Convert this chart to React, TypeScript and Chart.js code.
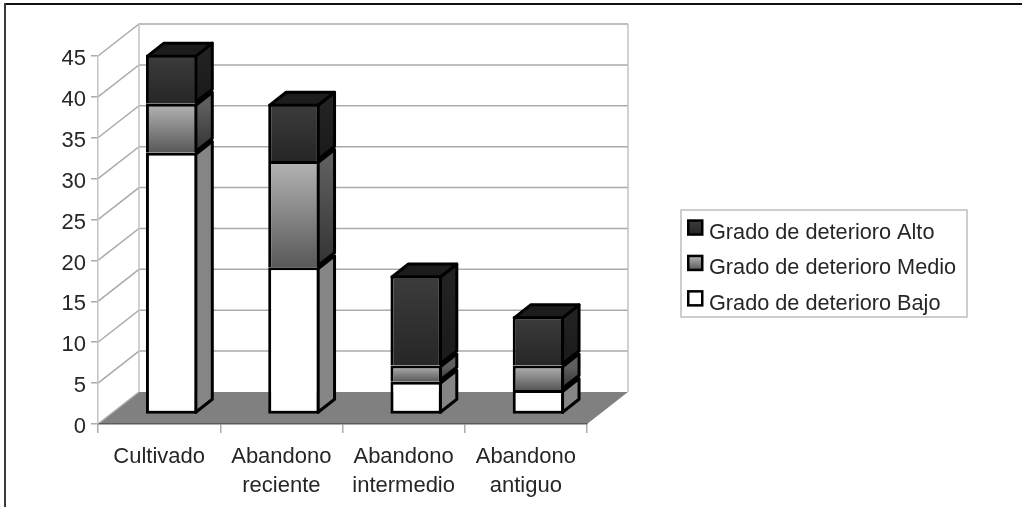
import React, { useEffect, useRef } from "react";
import { Chart, registerables } from "chart.js";

Chart.register(...registerables);

const categories = [
  "Cultivado",
  ["Abandono", "reciente"],
  ["Abandono", "intermedio"],
  ["Abandono", "antiguo"],
];
const gradoBajo = [32, 18, 4, 3];
const gradoMedio = [6, 13, 2, 3];
const gradoAlto = [6, 7, 11, 6];
const yTicks = [0, 5, 10, 15, 20, 25, 30, 35, 40, 45];

const FONT = "'Liberation Sans', Arial, sans-serif";
const TEXT = "#262626";
const GRID = "#ababab";

// Oblique projection: back wall offset, bar front-face offset, bar depth
const WALL = { dx: 41, dy: -32 };
const BAR_SHIFT = { dx: 12.5, dy: -9.5 };
const BAR_DEPTH = { dx: 16.5, dy: -13 };
const EDGE = 3;

const palette = {
  alto: { front: ["#3c3c3c", "#262626"], side: ["#222222", "#1a1a1a"], top: "#1c1c1c" },
  medio: { front: ["#b4b4b4", "#585858"], side: ["#5e5e5e", "#333333"], top: "#444444" },
  bajo: { front: ["#ffffff", "#ffffff"], side: ["#858585", "#858585"], top: "#858585" },
};
const paletteOrder = [palette.bajo, palette.medio, palette.alto];

const stackBase = (ds: number, i: number) =>
  [gradoBajo, gradoMedio, gradoAlto].slice(0, ds).reduce((s, a) => s + a[i], 0);

// Vertical gradient for a bar segment, built from the same scale as the bar
function frontFill(colors: string[], seriesIndex: number) {
  return (c: any) => {
    const ctx = c.chart.ctx as CanvasRenderingContext2D;
    const y = c.chart.scales?.y;
    if (c.type !== "data" || !y) return colors[0];
    const base = stackBase(seriesIndex, c.dataIndex);
    const value = c.raw as number;
    const y0 = y.getPixelForValue(base + value);
    const y1 = y.getPixelForValue(base);
    if (!Number.isFinite(y0) || !Number.isFinite(y1)) return colors[0];
    const g = ctx.createLinearGradient(0, y0, 0, y1);
    g.addColorStop(0, colors[0]);
    g.addColorStop(1, colors[1]);
    return g;
  };
}

const wallsPlugin = {
  id: "walls",
  beforeDraw(chart: any) {
    const { ctx, chartArea: a, scales } = chart;
    const bottom = a.bottom;
    ctx.save();
    ctx.fillStyle = "#ffffff";
    ctx.fillRect(0, 0, chart.width, chart.height);

    // page frame along the top and left
    ctx.fillStyle = "#111111";
    ctx.fillRect(4, 3, chart.width - 4, 2);
    ctx.fillStyle = "#3a3a3a";
    ctx.fillRect(4, 3, 2, chart.height - 3);

    // floor
    ctx.fillStyle = "#808080";
    ctx.beginPath();
    ctx.moveTo(a.left, bottom);
    ctx.lineTo(a.left + WALL.dx, bottom + WALL.dy);
    ctx.lineTo(a.right + WALL.dx, bottom + WALL.dy);
    ctx.lineTo(a.right, bottom);
    ctx.closePath();
    ctx.fill();

    // walls: side-wall diagonals and back-wall gridlines at each tick
    ctx.strokeStyle = GRID;
    ctx.lineWidth = 1.5;
    yTicks.forEach((t) => {
      const py = scales.y.getPixelForValue(t);
      ctx.beginPath();
      ctx.moveTo(a.left, py);
      ctx.lineTo(a.left + WALL.dx, py + WALL.dy);
      if (t > 0) ctx.lineTo(a.right + WALL.dx, py + WALL.dy);
      ctx.stroke();
    });
    ctx.strokeStyle = "#c4c4c4";
    ctx.beginPath();
    ctx.moveTo(a.left + WALL.dx, bottom + WALL.dy);
    ctx.lineTo(a.left + WALL.dx, a.top + WALL.dy);
    ctx.moveTo(a.right + WALL.dx, bottom + WALL.dy);
    ctx.lineTo(a.right + WALL.dx, a.top + WALL.dy);
    ctx.stroke();
    ctx.restore();
  },
};

const depthPlugin = {
  id: "depth",
  beforeDatasetsDraw(chart: any) {
    const { ctx } = chart;
    ctx.save();
    ctx.translate(BAR_SHIFT.dx, BAR_SHIFT.dy);
    ctx.strokeStyle = "#000000";
    ctx.lineWidth = EDGE;
    ctx.lineJoin = "round";
    const inset = EDGE / 2;
    chart.data.datasets.forEach((_: any, ds: number) => {
      const colors = paletteOrder[ds];
      chart.getDatasetMeta(ds).data.forEach((bar: any) => {
        const xr = bar.x + bar.width / 2 - inset;
        const xl = bar.x - bar.width / 2 + inset;
        const yt = bar.y + inset;
        const yb = bar.base - inset;
        const g = ctx.createLinearGradient(0, yt, 0, yb);
        g.addColorStop(0, colors.side[0]);
        g.addColorStop(1, colors.side[1]);
        ctx.fillStyle = g;
        ctx.beginPath();
        ctx.moveTo(xr, yt);
        ctx.lineTo(xr + BAR_DEPTH.dx, yt + BAR_DEPTH.dy);
        ctx.lineTo(xr + BAR_DEPTH.dx, yb + BAR_DEPTH.dy);
        ctx.lineTo(xr, yb);
        ctx.closePath();
        ctx.fill();
        ctx.stroke();
        if (ds === chart.data.datasets.length - 1) {
          ctx.fillStyle = colors.top;
          ctx.beginPath();
          ctx.moveTo(xl, yt);
          ctx.lineTo(xl + BAR_DEPTH.dx, yt + BAR_DEPTH.dy);
          ctx.lineTo(xr + BAR_DEPTH.dx, yt + BAR_DEPTH.dy);
          ctx.lineTo(xr, yt);
          ctx.closePath();
          ctx.fill();
          ctx.stroke();
        }
      });
    });
    // front faces are drawn by the bar elements, shifted the same way
  },
  afterDatasetsDraw(chart: any) {
    chart.ctx.restore();
  },
};

const legendPlugin = {
  id: "legendFrame",
  afterLayout(chart: any) {
    const l = chart.legend;
    l.left = 673.3;
    l.right = 1000;
    l.top = 208.3;
    l.bottom = 332;
    l.width = l.right - l.left;
    l.height = l.bottom - l.top;
    l.adjustHitBoxes();
  },
  afterDraw(chart: any) {
    const { ctx, legend } = chart;
    ctx.save();
    ctx.strokeStyle = "#bdbdbd";
    ctx.lineWidth = 1.5;
    ctx.strokeRect(681, 210, 286, 107);
    // swatches sit tight against their labels
    const rows = [palette.alto, palette.medio, palette.bajo];
    legend.legendHitBoxes.forEach((hit: any, i: number) => {
      const cy = hit.top + hit.height / 2 - 5.3;
      const x = 688.25;
      const size = 14;
      const g = ctx.createLinearGradient(0, cy - size / 2, 0, cy + size / 2);
      g.addColorStop(0, rows[i].front[0]);
      g.addColorStop(1, rows[i].front[1]);
      ctx.fillStyle = g;
      ctx.fillRect(x, cy - size / 2, size, size);
      ctx.strokeStyle = "#000000";
      ctx.lineWidth = 2.5;
      ctx.strokeRect(x, cy - size / 2, size, size);
    });
    ctx.restore();
  },
};

export default function App() {
  const ref = useRef<HTMLCanvasElement>(null);

  useEffect(() => {
    if (!ref.current) return;
    const sideBorder = { top: EDGE, left: EDGE, right: EDGE, bottom: 0 };
    const chart = new Chart(ref.current, {
      type: "bar",
      data: {
        labels: categories as any,
        datasets: [
          {
            label: "Grado de deterioro Bajo",
            data: gradoBajo,
            backgroundColor: frontFill(palette.bajo.front, 0),
            borderColor: "#000000",
            borderWidth: EDGE,
            borderSkipped: false,
          },
          {
            label: "Grado de deterioro Medio",
            data: gradoMedio,
            backgroundColor: frontFill(palette.medio.front, 1),
            borderColor: "#000000",
            borderWidth: sideBorder,
            borderSkipped: false,
          },
          {
            label: "Grado de deterioro Alto",
            data: gradoAlto,
            backgroundColor: frontFill(palette.alto.front, 2),
            borderColor: "#000000",
            borderWidth: sideBorder,
            borderSkipped: false,
          },
        ],
      },
      options: {
        responsive: false,
        animation: false,
        devicePixelRatio: 1,
        barPercentage: 0.42,
        categoryPercentage: 1,
        layout: { padding: { top: 56, right: 435, left: 0, bottom: 0 } },
        datasets: { bar: { clip: false } as any },
        scales: {
          x: {
            stacked: true,
            afterFit(axis: any) {
              axis.height = 83;
            },
            grid: {
              drawOnChartArea: false,
              drawTicks: true,
              tickLength: 9,
              tickColor: GRID,
              lineWidth: 1.5,
            },
            border: { color: "#5a5a5a", width: 1.6 },
            ticks: {
              color: TEXT,
              maxRotation: 0,
              autoSkip: false,
              padding: 9,
              font: { family: FONT, size: 22, lineHeight: 1.33 },
            },
          },
          y: {
            stacked: true,
            min: 0,
            max: 45,
            afterFit(axis: any) {
              axis.width = 98;
            },
            afterBuildTicks(axis: any) {
              axis.ticks = yTicks.map((value) => ({ value }));
            },
            // tick numbers sit a little below their tick marks
            afterUpdate(axis: any) {
              if (axis.__labelsLowered) return;
              axis.__labelsLowered = true;
              const drawLabels = axis.drawLabels.bind(axis);
              axis.drawLabels = (area: any) => {
                axis.ctx.save();
                axis.ctx.translate(0, 3);
                drawLabels(area);
                axis.ctx.restore();
              };
            },
            grid: {
              drawOnChartArea: false,
              drawTicks: true,
              tickLength: 7,
              tickColor: GRID,
              lineWidth: 1.5,
            },
            border: { color: "#c4c4c4", width: 1.5 },
            ticks: {
              color: TEXT,
              padding: 5,
              font: { family: FONT, size: 22 },
            },
          },
        },
        plugins: {
          title: { display: false },
          tooltip: { enabled: false },
          legend: {
            display: true,
            position: "chartArea",
            align: "start",
            reverse: true,
            labels: {
              boxWidth: 11.15,
              boxHeight: 14,
              padding: 13.7,
              color: TEXT,
              font: { family: FONT, size: 21.7 },
              generateLabels(chart: any) {
                return Chart.defaults.plugins.legend.labels
                  .generateLabels(chart)
                  .map((item: any) => ({
                    ...item,
                    fillStyle: "rgba(0,0,0,0)",
                    strokeStyle: "rgba(0,0,0,0)",
                    lineWidth: 0,
                  }));
              },
            },
          },
        },
      },
      plugins: [wallsPlugin, depthPlugin, legendPlugin],
    } as any);
    return () => chart.destroy();
  }, []);

  return (
    <div style={{ position: "absolute", left: 0, top: 0, width: 1022, height: 507 }}>
      <canvas ref={ref} width={1022} height={507} style={{ display: "block" }} />
    </div>
  );
}
